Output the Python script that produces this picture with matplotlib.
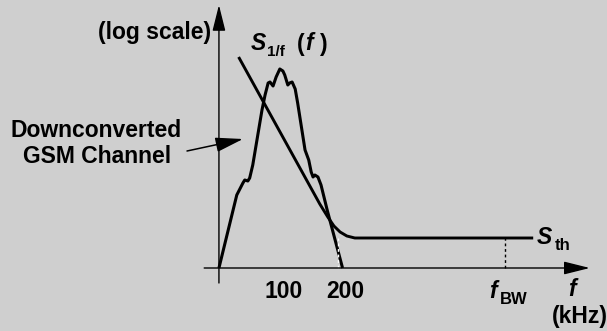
import matplotlib
matplotlib.use("Agg")
import matplotlib.pyplot as plt

plt.rcParams['font.family'] = ['Liberation Sans', 'DejaVu Sans']

# GSM channel spectrum (frequency in kHz, level in arbitrary log units)
gsm_f = [0, 29, 39, 42, 47, 50, 55, 70, 75, 80, 83, 88, 93, 99, 104, 107,
         112, 115, 119, 124, 128, 140, 146, 150, 153, 156, 161, 166, 176, 201]
gsm_s = [0, 73, 85, 88, 87, 90, 103, 158, 173, 185, 186, 182, 191, 199, 197, 193,
         183, 185, 186, 179, 165, 118, 108, 96, 91, 93, 91, 83, 58, 0]

# flicker noise + thermal floor
noise_f = [32, 164, 177, 187, 197, 208, 221, 237, 511]
noise_s = [211, 64, 51, 42, 36, 32, 30, 30, 30]

s_th = 30
f_corner = 193
f_bw = 465
tick_vals = [100, 200]
tick_labels = ['100', '200']

W, H = 607, 331
BG = '#cfcfcf'


def fp(px, py):
    # pixel position -> figure fraction
    return px / W, 1 - py / H


fig = plt.figure(figsize=(W / 100, H / 100), dpi=100, facecolor=BG)
ax = fig.add_axes([0, 0, 1, 1])
ax.set_facecolor(BG)
ax.set_xlim(-356, 631)
ax.set_ylim(-63, 268)
ax.axis('off')

# axes with arrows
arrow = dict(arrowstyle='-|>,head_length=1.6,head_width=0.4', mutation_scale=10,
             lw=1.0, color='black', shrinkA=0, shrinkB=0)
ax.annotate('', xy=(0, 263), xytext=(0, -15), arrowprops=arrow)
ax.annotate('', xy=(603, 0), xytext=(-24, 0), arrowprops=arrow)

# curves
ax.plot(gsm_f, gsm_s, color='black', lw=2.2, solid_joinstyle='round', solid_capstyle='butt')
ax.plot(noise_f, noise_s, color='black', lw=2.1, solid_joinstyle='round', solid_capstyle='butt')

# dashed markers
ax.plot([f_corner, f_corner], [0, s_th], color='white', lw=1.0, ls=(0, (2, 2)))
ax.plot([f_bw, f_bw], [0, s_th], color='black', lw=1.0, ls=(0, (2, 2)))

# labels
bold = dict(weight='bold', size=16.5, color='black')
fig.text(*fp(211, 33), '(log scale)', ha='right', va='center', **bold)
fig.text(*fp(96, 131), 'Downconverted', ha='center', va='center', **bold)
fig.text(*fp(97, 156), 'GSM Channel', ha='center', va='center', **bold)
ax.annotate('', xy=fp(243, 139), xycoords='figure fraction',
            xytext=fp(187, 151), textcoords='figure fraction',
            arrowprops=dict(arrowstyle='-|>,head_length=1.7,head_width=0.45',
                            mutation_scale=10, lw=1.1, color='black',
                            shrinkA=0, shrinkB=0))

fig.text(*fp(251, 44), 'S', ha='left', va='center', style='italic', **bold)
fig.text(*fp(267, 52), '1/f', ha='left', va='center', weight='bold', size=11)
fig.text(*fp(297, 44), '(', ha='left', va='center', **bold)
fig.text(*fp(305, 44), 'f', ha='left', va='center', style='italic', **bold)
fig.text(*fp(320, 44), ')', ha='left', va='center', **bold)

fig.text(*fp(537, 237), 'S', ha='left', va='center', style='italic', **bold)
fig.text(*fp(555, 246), 'th', ha='left', va='center', weight='bold', size=12)

for v, lab in zip(tick_vals, tick_labels):
    ax.text(v + 5, -23, lab, ha='center', va='center', **bold)

fig.text(*fp(489, 292), 'f', ha='left', va='center', style='italic', **bold)
fig.text(*fp(500, 299), 'BW', ha='left', va='center', weight='bold', size=12)
fig.text(*fp(572, 290), 'f', ha='center', va='center', style='italic', **bold)
fig.text(*fp(580, 317), '(kHz)', ha='center', va='center', **bold)

fig.savefig('out.png', dpi=100, facecolor=BG)
